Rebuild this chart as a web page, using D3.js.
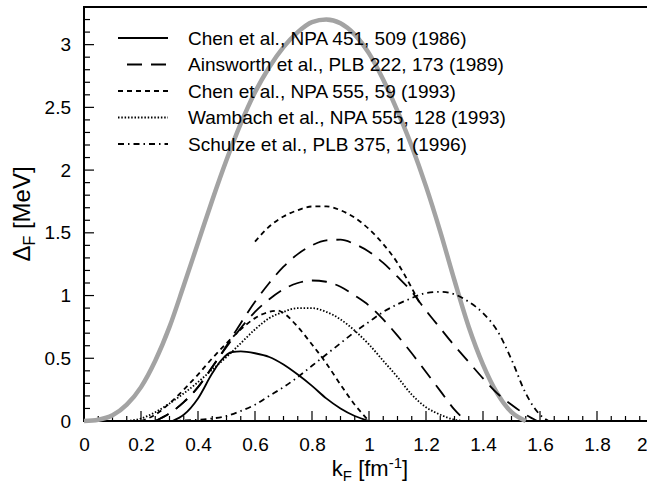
<!DOCTYPE html>
<html><head><meta charset="utf-8">
<script src="https://cdn.jsdelivr.net/npm/d3@7"></script>
<style>
body{margin:0;background:#fff;}
svg{display:block;font-family:"Liberation Sans",Arial,Helvetica,sans-serif;}
</style></head>
<body><svg id="c" width="647" height="495"></svg>
<script>
// ---- data (k_F [fm^-1], Delta_F [MeV]) ----
const grayCurve = [[0,0],[0.05,0.01],[0.1,0.045],[0.15,0.13],[0.2,0.27],[0.25,0.48],[0.3,0.75],[0.35,1.08],[0.4,1.42],[0.45,1.76],[0.5,2.08],[0.55,2.37],[0.6,2.62],[0.65,2.82],[0.7,2.98],[0.75,3.10],[0.8,3.18],[0.85,3.20],[0.9,3.17],[0.95,3.08],[1.0,2.93],[1.05,2.72],[1.1,2.47],[1.15,2.19],[1.2,1.87],[1.25,1.51],[1.3,1.12],[1.35,0.75],[1.4,0.45],[1.45,0.22],[1.5,0.07],[1.55,0]];
const chen1986 = [[0.31,0],[0.35,0.05],[0.4,0.18],[0.45,0.38],[0.48,0.48],[0.52,0.55],[0.55,0.555],[0.6,0.54],[0.65,0.51],[0.7,0.45],[0.75,0.37],[0.8,0.28],[0.85,0.18],[0.9,0.10],[0.95,0.04],[1.0,0]];
const ainsworthUpper = [[0.25,0],[0.3,0.06],[0.35,0.15],[0.4,0.27],[0.45,0.43],[0.5,0.6],[0.55,0.78],[0.6,0.95],[0.65,1.1],[0.7,1.23],[0.75,1.33],[0.8,1.4],[0.85,1.44],[0.9,1.445],[0.95,1.41],[1.0,1.35],[1.05,1.26],[1.1,1.15],[1.15,1.03],[1.2,0.88],[1.25,0.74],[1.3,0.6],[1.35,0.47],[1.4,0.34],[1.45,0.22],[1.5,0.13],[1.55,0.05],[1.59,0]];
const ainsworthLower = [[0.25,0],[0.3,0.06],[0.35,0.15],[0.4,0.27],[0.45,0.43],[0.5,0.59],[0.55,0.74],[0.6,0.87],[0.65,0.97],[0.7,1.05],[0.75,1.1],[0.8,1.12],[0.85,1.11],[0.9,1.07],[0.95,1.0],[1.0,0.92],[1.05,0.81],[1.1,0.68],[1.15,0.54],[1.2,0.39],[1.25,0.24],[1.3,0.09],[1.34,0]];
const chen1993Upper = [[0.6,1.43],[0.65,1.55],[0.7,1.63],[0.75,1.68],[0.8,1.71],[0.85,1.71],[0.9,1.68],[0.95,1.62],[1.0,1.53],[1.05,1.41],[1.1,1.26],[1.15,1.06],[1.18,0.93]];
const chen1993Lower = [[0.2,0],[0.25,0.05],[0.3,0.14],[0.35,0.25],[0.4,0.37],[0.45,0.5],[0.5,0.62],[0.55,0.73],[0.6,0.82],[0.65,0.87],[0.68,0.88],[0.7,0.86],[0.75,0.75],[0.8,0.61],[0.85,0.46],[0.9,0.29],[0.95,0.13],[1.0,0]];
const wambach1993 = [[0.15,0],[0.2,0.02],[0.25,0.07],[0.3,0.14],[0.35,0.22],[0.4,0.31],[0.45,0.41],[0.5,0.51],[0.55,0.62],[0.6,0.73],[0.65,0.82],[0.7,0.87],[0.75,0.9],[0.8,0.9],[0.85,0.87],[0.9,0.81],[0.95,0.72],[1.0,0.61],[1.05,0.48],[1.1,0.35],[1.15,0.21],[1.2,0.11],[1.25,0.05],[1.3,0.01],[1.33,0]];
const schulze1996 = [[0.3,0],[0.4,0.01],[0.45,0.02],[0.5,0.04],[0.55,0.08],[0.6,0.13],[0.65,0.2],[0.7,0.27],[0.75,0.35],[0.8,0.44],[0.85,0.53],[0.9,0.62],[0.95,0.71],[1.0,0.79],[1.05,0.87],[1.1,0.93],[1.15,0.98],[1.2,1.02],[1.25,1.03],[1.3,1.01],[1.35,0.95],[1.4,0.86],[1.45,0.72],[1.5,0.49],[1.55,0.22],[1.6,0.05],[1.63,0]];

const legendLabels = ["Chen et al., NPA 451, 509 (1986)","Ainsworth et al., PLB 222, 173 (1989)","Chen et al., NPA 555, 59 (1993)","Wambach et al., NPA 555, 128 (1993)","Schulze et al., PLB 375, 1 (1996)"];
const xTicks = [0,0.2,0.4,0.6,0.8,1,1.2,1.4,1.6,1.8,2];
const yTicks = [0,0.5,1,1.5,2,2.5,3];

// ---- styles ----
const dashStyles = {solid:null, long:"15,9", short:"5,4", dotted:"1.5,1.8", dashdot:"6,4,1.5,4"};

const svg = d3.select("#c");
const W = 647;
const L=84, R=654, T=7, B=421;
const x = d3.scaleLinear().domain([0,2]).range([L,R]);
const y = d3.scaleLinear().domain([0,3.3]).range([B,T]);

// minor/major ticks (inward)
const g = svg.append("g");
d3.range(0,2.001,0.05).forEach(v=>{
  const major = Math.abs(v*5-Math.round(v*5))<1e-6;
  g.append("line").attr("x1",x(v)).attr("x2",x(v)).attr("y1",B).attr("y2",B-(major?10:5)).attr("stroke","#000").attr("stroke-width",1.2);
});
d3.range(0,3.301,0.1).forEach(v=>{
  const major = Math.abs(v*2-Math.round(v*2))<1e-6;
  g.append("line").attr("x1",L).attr("x2",L+(major?10:6)).attr("y1",y(v)).attr("y2",y(v)).attr("stroke","#000").attr("stroke-width",1.2);
});

// tick labels via axes
const xAxis = d3.axisBottom(x).tickValues(xTicks).tickSize(0).tickPadding(17).tickFormat(d3.format("~g"));
svg.append("g").attr("transform",`translate(0,${B})`).call(xAxis)
  .call(a=>a.select(".domain").remove())
  .selectAll("text").attr("font-size",19).attr("font-family","Liberation Sans, Arial, sans-serif").attr("fill","#000")
  .each(function(d){
    // keep the last label inside the window, as in the reference
    const el = d3.select(this);
    if (x(d) + 6 > W) el.attr("text-anchor","end").attr("x", W - x(d));
  });
const yAxis = d3.axisLeft(y).tickValues(yTicks).tickSize(0).tickPadding(13).tickFormat(d3.format("~g"));
svg.append("g").attr("transform",`translate(${L},0)`).call(yAxis)
  .call(a=>a.select(".domain").remove())
  .selectAll("text").attr("font-size",19).attr("font-family","Liberation Sans, Arial, sans-serif").attr("fill","#000");

// frame
svg.append("path").attr("d",`M${R},${B}L${L},${B}L${L},${T}L${R},${T}`).attr("fill","none").attr("stroke","#000").attr("stroke-width",2);

const line = d3.line().x(d=>x(d[0])).y(d=>y(d[1])).curve(d3.curveMonotoneX);

svg.append("path").datum(grayCurve).attr("d",line).attr("fill","none").attr("stroke","#a3a3a3").attr("stroke-width",4.5);

const series = [
  {d:chen1986, s:"solid"},
  {d:ainsworthUpper, s:"long"},
  {d:ainsworthLower, s:"long"},
  {d:chen1993Upper, s:"short"},
  {d:chen1993Lower, s:"short"},
  {d:wambach1993, s:"dotted"},
  {d:schulze1996, s:"dashdot"}
];
series.forEach(o=>{
  svg.append("path").datum(o.d).attr("d",line).attr("fill","none").attr("stroke","#000")
    .attr("stroke-width",1.8).attr("stroke-dasharray",dashStyles[o.s]);
});

// legend
const legStyles = ["solid","long","short","dotted","dashdot"];
const legOffsets = [0,15,0,0,0];
legendLabels.forEach((t,i)=>{
  const yy = 38 + i*26.5;
  svg.append("line").attr("x1",118).attr("x2",168).attr("y1",yy).attr("y2",yy)
    .attr("stroke","#000").attr("stroke-width",1.8).attr("stroke-dasharray",dashStyles[legStyles[i]])
    .attr("stroke-dashoffset",legOffsets[i]);
  svg.append("text").attr("x",188).attr("y",yy).attr("dy","0.36em").attr("font-size",19).text(t);
});

// axis titles
const xt = svg.append("text").attr("x",370).attr("y",476).attr("text-anchor","middle").attr("font-size",22);
xt.append("tspan").text("k");
xt.append("tspan").attr("dy",5).attr("font-size",15).text("F");
xt.append("tspan").attr("dy",-5).text(" [fm");
xt.append("tspan").attr("dy",-8).attr("font-size",15).text("-1");
xt.append("tspan").attr("dy",8).text("]");

const yt = svg.append("text").attr("transform",`translate(30,${(T+B)/2}) rotate(-90)`).attr("text-anchor","middle").attr("font-size",24);
yt.append("tspan").text("Δ");
yt.append("tspan").attr("dy",5).attr("font-size",16).text("F");
yt.append("tspan").attr("dy",-5).text(" [MeV]");
</script>
</body></html>
